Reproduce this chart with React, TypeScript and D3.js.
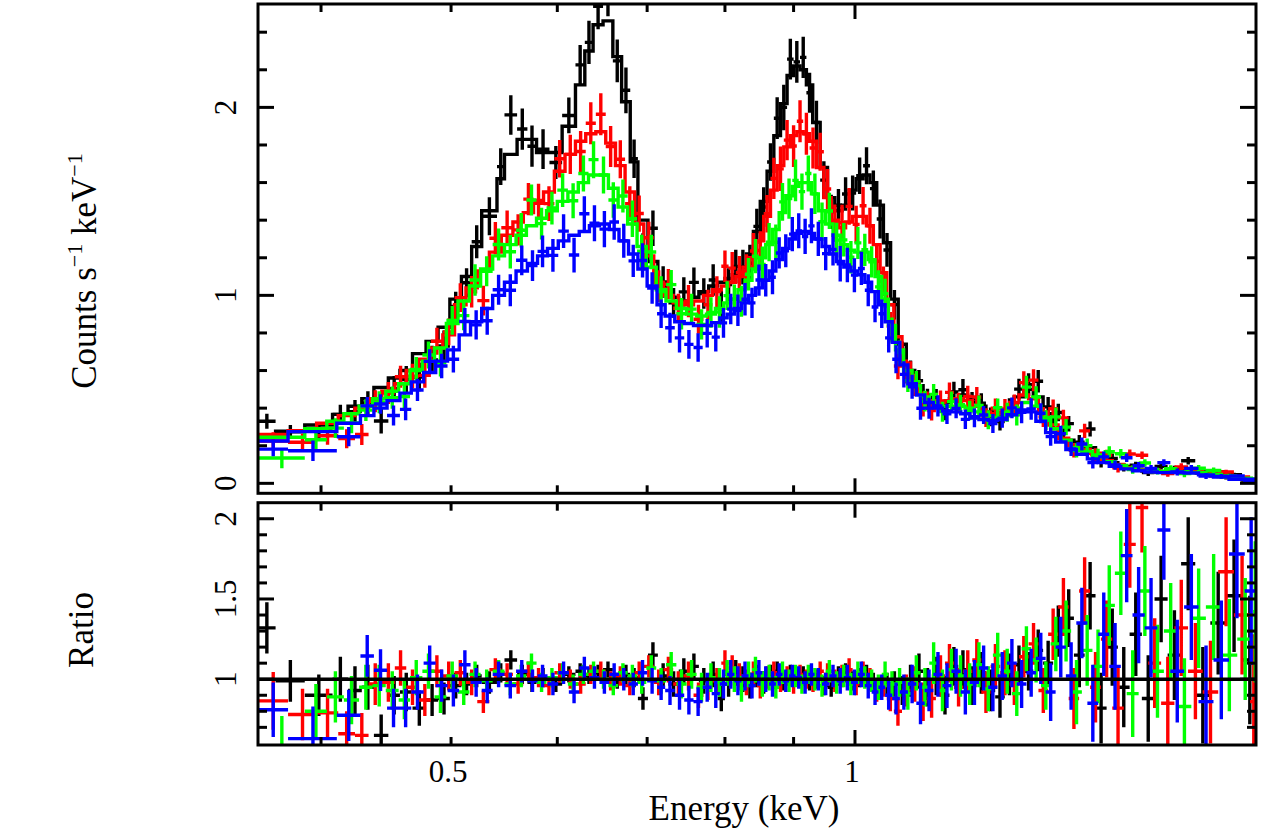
import React from 'react';
import * as d3 from 'd3';

// ---------------- data (keV bin edges, model counts/s/keV, data/model ratio, ratio error) -------------
const blackEdges = [
  0.359, 0.370, 0.389, 0.408, 0.419, 0.429, 0.438, 0.449, 0.458, 0.468, 0.479, 0.489, 0.499,
  0.509, 0.518, 0.527, 0.541, 0.548, 0.560, 0.570, 0.579, 0.592, 0.605, 0.619, 0.629, 0.638, 0.649, 0.660, 0.670, 0.680, 0.689, 0.701, 0.713,
  0.726, 0.739, 0.752, 0.765, 0.778, 0.790, 0.800, 0.810, 0.820, 0.830, 0.840, 0.850, 0.860, 0.870, 0.880, 0.890, 0.900, 0.910, 0.920, 0.930, 0.942, 0.954, 0.966, 0.978, 0.990, 1.002, 1.014, 1.026, 1.038, 1.050, 1.063,
  1.077, 1.092, 1.108, 1.124, 1.141, 1.158, 1.176, 1.194, 1.213, 1.232, 1.252, 1.272, 1.293, 1.314, 1.336, 1.358, 1.381, 1.405, 1.430, 1.456, 1.483, 1.511, 1.540, 1.570, 1.602, 1.636, 1.672, 1.710, 1.750, 1.793, 1.840, 1.890, 1.943, 1.995,
];
const blackModel = [
  0.25, 0.277, 0.31, 0.367, 0.41, 0.45, 0.51, 0.56, 0.60, 0.69, 0.755, 0.83,
  0.98, 1.10, 1.26, 1.45, 1.62, 1.75, 1.83, 1.83, 1.76, 1.76, 1.90, 2.12, 2.30, 2.44, 2.46, 2.27, 2.03, 1.71, 1.40, 1.18,
  1.05, 0.99, 0.97, 0.99, 1.02, 1.05, 1.07, 1.09, 1.11, 1.15, 1.22, 1.34, 1.50, 1.66, 1.85, 2.02, 2.17, 2.22, 2.20, 2.12, 1.92, 1.68, 1.52, 1.45, 1.48, 1.56, 1.62, 1.64, 1.60, 1.48, 1.28,
  0.98, 0.74, 0.60, 0.52, 0.47, 0.44, 0.43, 0.45, 0.47, 0.45, 0.41, 0.38, 0.37, 0.39, 0.46, 0.50, 0.46, 0.37, 0.29, 0.23, 0.19, 0.19, 0.14, 0.11, 0.09, 0.075, 0.065, 0.06, 0.065, 0.07, 0.06, 0.045, 0.03, 0.018,
];
const blackRatio = [
  1.32, 0.99, 0.90, 1.00, 0.93, 0.95, 0.65, 0.90, 0.92, 0.82, 0.87, 0.88,
  0.96, 0.97, 1.02, 0.98, 1.04, 1.12, 1.03, 0.98, 1.01, 0.97, 1.03, 1.05, 1.02, 1.04, 1.06, 0.99, 1.03, 1.01, 0.88, 1.15,
  1.02, 0.97, 1.05, 1.08, 0.99, 1.03, 0.88, 0.97, 1.04, 1.00, 0.96, 1.02, 0.98, 1.03, 1.05, 0.99, 1.04, 1.01, 1.03, 0.98, 1.00, 0.96, 0.95, 1.02, 1.04, 0.99, 1.01, 1.03, 0.98, 0.95, 0.97,
  0.97, 0.93, 0.99, 1.05, 0.95, 1.02, 0.90, 1.08, 1.06, 0.96, 1.04, 0.93, 0.89, 1.03, 1.09, 1.05, 1.18, 1.10, 1.30, 1.38, 1.15, 1.52, 0.82, 1.20, 0.95, 1.28, 0.88, 1.50, 1.15, 1.72, 0.90, 1.35, 1.52, 1.12,
];
const blackErr = [
  0.16, 0.13, 0.13, 0.14, 0.15, 0.14, 0.13, 0.12, 0.12, 0.11, 0.10, 0.10,
  0.08, 0.07, 0.07, 0.07, 0.06, 0.06, 0.06, 0.06, 0.06, 0.05, 0.05, 0.05, 0.05, 0.05, 0.05, 0.05, 0.06, 0.06, 0.07, 0.08,
  0.08, 0.08, 0.08, 0.08, 0.08, 0.08, 0.08, 0.08, 0.08, 0.08, 0.08, 0.07, 0.07, 0.06, 0.06, 0.06, 0.05, 0.05, 0.05, 0.05, 0.06, 0.06, 0.06, 0.06, 0.06, 0.06, 0.06, 0.06, 0.06, 0.07, 0.07,
  0.08, 0.09, 0.10, 0.11, 0.12, 0.12, 0.12, 0.12, 0.12, 0.12, 0.13, 0.13, 0.13, 0.13, 0.12, 0.12, 0.13, 0.14, 0.16, 0.18, 0.20, 0.21, 0.22, 0.24, 0.25, 0.26, 0.27, 0.27, 0.28, 0.29, 0.30, 0.32, 0.35, 0.40,
];

const redEdges = [
  0.359, 0.378, 0.397, 0.412, 0.424, 0.434, 0.444, 0.454, 0.463, 0.473, 0.483, 0.493, 0.503,
  0.513, 0.523, 0.534, 0.545, 0.556, 0.566, 0.576, 0.586, 0.597, 0.608, 0.619, 0.630, 0.641, 0.652, 0.663, 0.674, 0.685, 0.696, 0.708, 0.720,
  0.732, 0.745, 0.758, 0.771, 0.783, 0.795, 0.805, 0.815, 0.825, 0.835, 0.845, 0.855, 0.865, 0.875, 0.885, 0.895, 0.905, 0.915, 0.925, 0.936, 0.948, 0.960, 0.972, 0.984, 0.996, 1.008, 1.020, 1.032, 1.044, 1.056, 1.069,
  1.084, 1.100, 1.116, 1.132, 1.149, 1.167, 1.185, 1.204, 1.223, 1.242, 1.262, 1.283, 1.304, 1.325, 1.347, 1.370, 1.393, 1.417, 1.443, 1.469, 1.497, 1.525, 1.555, 1.586, 1.619, 1.654, 1.691, 1.730, 1.771, 1.816, 1.865, 1.916, 1.970, 1.995,
];
const redModel = [
  0.26, 0.28, 0.32, 0.36, 0.40, 0.45, 0.49, 0.53, 0.60, 0.66, 0.72, 0.79,
  0.95, 1.04, 1.13, 1.23, 1.32, 1.39, 1.44, 1.49, 1.55, 1.66, 1.75, 1.82, 1.86, 1.87, 1.81, 1.69, 1.55, 1.38, 1.21, 1.07,
  1.00, 0.96, 0.95, 0.97, 1.00, 1.03, 1.05, 1.07, 1.10, 1.15, 1.20, 1.29, 1.42, 1.56, 1.69, 1.79, 1.85, 1.87, 1.86, 1.82, 1.68, 1.52, 1.40, 1.36, 1.39, 1.42, 1.42, 1.37, 1.27, 1.12, 0.95,
  0.78, 0.64, 0.54, 0.48, 0.44, 0.43, 0.44, 0.45, 0.44, 0.41, 0.38, 0.37, 0.38, 0.43, 0.47, 0.45, 0.38, 0.31, 0.24, 0.20, 0.18, 0.16, 0.12, 0.10, 0.085, 0.072, 0.063, 0.062, 0.066, 0.062, 0.05, 0.036, 0.024, 0.016,
];
const redRatio = [
  0.865, 0.78, 0.79, 0.66, 0.65, 0.97, 0.98, 1.07, 0.95, 0.87, 1.05, 1.02,
  1.04, 0.98, 0.86, 1.06, 1.03, 0.97, 1.05, 1.01, 0.96, 1.04, 1.00, 0.97, 1.03, 1.05, 0.99, 1.02, 0.96, 1.04, 1.08, 0.98,
  1.06, 0.97, 1.02, 0.90, 0.95, 0.99, 1.10, 1.07, 1.02, 0.98, 1.03, 0.96, 1.01, 1.04, 0.99, 1.02, 0.97, 1.03, 1.00, 0.98, 1.05, 1.03, 0.99, 1.02, 1.06, 0.97, 1.04, 1.00, 0.93, 0.96, 0.88,
  0.80, 0.93, 0.97, 0.86, 0.88, 1.02, 1.10, 0.95, 1.05, 1.12, 0.92, 1.08, 1.04, 0.97, 1.14, 1.22, 0.93, 1.28, 1.45, 0.88, 1.55, 0.95, 1.25, 0.82, 1.84, 2.07, 1.10, 0.85, 1.32, 1.05, 0.92, 1.67, 1.40, 0.86,
];
const redErr = [
  0.18, 0.16, 0.15, 0.14, 0.14, 0.13, 0.12, 0.11, 0.11, 0.10, 0.10, 0.09,
  0.08, 0.08, 0.07, 0.07, 0.07, 0.06, 0.06, 0.06, 0.06, 0.06, 0.06, 0.06, 0.06, 0.06, 0.06, 0.06, 0.06, 0.07, 0.07, 0.08,
  0.08, 0.08, 0.09, 0.08, 0.08, 0.08, 0.08, 0.08, 0.08, 0.08, 0.08, 0.08, 0.07, 0.07, 0.07, 0.06, 0.06, 0.06, 0.06, 0.06, 0.06, 0.07, 0.07, 0.07, 0.07, 0.07, 0.07, 0.07, 0.07, 0.07, 0.08,
  0.09, 0.10, 0.11, 0.12, 0.12, 0.13, 0.12, 0.12, 0.13, 0.13, 0.13, 0.14, 0.14, 0.13, 0.13, 0.13, 0.14, 0.16, 0.18, 0.19, 0.21, 0.22, 0.24, 0.25, 0.27, 0.28, 0.28, 0.29, 0.30, 0.30, 0.32, 0.34, 0.37, 0.42,
];

const greenEdges = [
  0.359, 0.389, 0.404, 0.416, 0.427, 0.437, 0.447, 0.457, 0.466, 0.476, 0.486, 0.496, 0.506,
  0.516, 0.526, 0.537, 0.548, 0.559, 0.569, 0.579, 0.589, 0.600, 0.611, 0.622, 0.633, 0.644, 0.655, 0.666, 0.677, 0.688, 0.699, 0.711, 0.723,
  0.736, 0.749, 0.762, 0.775, 0.787, 0.798, 0.808, 0.818, 0.828, 0.838, 0.848, 0.858, 0.868, 0.878, 0.888, 0.898, 0.908, 0.918, 0.928, 0.939, 0.951, 0.963, 0.975, 0.987, 0.999, 1.011, 1.023, 1.035, 1.047, 1.059, 1.072,
  1.087, 1.103, 1.119, 1.136, 1.153, 1.171, 1.189, 1.208, 1.227, 1.247, 1.267, 1.288, 1.309, 1.331, 1.353, 1.376, 1.399, 1.424, 1.449, 1.476, 1.503, 1.532, 1.562, 1.594, 1.627, 1.662, 1.699, 1.739, 1.781, 1.826, 1.875, 1.927, 1.980, 1.995,
];
const greenModel = [
  0.245, 0.29, 0.33, 0.37, 0.41, 0.45, 0.49, 0.53, 0.60, 0.65, 0.72, 0.85,
  0.97, 1.05, 1.14, 1.21, 1.27, 1.32, 1.37, 1.41, 1.45, 1.50, 1.55, 1.60, 1.64, 1.64, 1.57, 1.47, 1.38, 1.26, 1.15, 1.03,
  0.97, 0.93, 0.90, 0.89, 0.90, 0.93, 0.96, 0.98, 1.03, 1.08, 1.14, 1.20, 1.27, 1.35, 1.44, 1.53, 1.58, 1.60, 1.60, 1.54, 1.45, 1.38, 1.32, 1.27, 1.24, 1.23, 1.23, 1.19, 1.10, 0.98, 0.84,
  0.71, 0.60, 0.52, 0.46, 0.43, 0.41, 0.41, 0.41, 0.40, 0.38, 0.36, 0.35, 0.36, 0.40, 0.43, 0.41, 0.35, 0.29, 0.23, 0.19, 0.17, 0.14, 0.115, 0.095, 0.08, 0.07, 0.062, 0.06, 0.062, 0.058, 0.047, 0.034, 0.022, 0.015,
];
const greenRatio = [
  0.55, 0.80, 0.89, 0.87, 0.95, 0.96, 0.93, 0.87, 1.01, 1.05, 0.89, 1.02,
  0.92, 1.03, 0.99, 1.05, 0.97, 1.02, 1.10, 0.98, 1.01, 1.04, 0.97, 1.03, 1.05, 1.00, 0.96, 1.04, 1.02, 0.98, 1.07, 0.99,
  1.09, 0.97, 1.03, 0.95, 1.01, 0.98, 1.04, 1.00, 0.94, 1.03, 1.06, 0.97, 1.01, 0.95, 1.04, 0.99, 1.02, 0.97, 1.03, 1.00, 0.96, 1.05, 0.98, 1.02, 0.97, 1.04, 1.01, 0.99, 0.95, 1.03, 0.97,
  0.98, 0.91, 1.04, 0.95, 1.10, 0.93, 1.06, 1.02, 0.97, 1.09, 0.94, 1.15, 1.05, 0.91, 1.19, 1.12, 0.96, 1.22, 1.30, 0.92, 1.18, 1.08, 1.46, 1.66, 0.91, 1.55, 1.05, 1.30, 0.83, 1.38, 1.45, 1.15, 1.25, 1.42,
];
const greenErr = [
  0.22, 0.17, 0.16, 0.15, 0.14, 0.13, 0.12, 0.12, 0.11, 0.11, 0.10, 0.09,
  0.08, 0.08, 0.07, 0.07, 0.07, 0.07, 0.06, 0.06, 0.06, 0.06, 0.06, 0.06, 0.06, 0.06, 0.06, 0.06, 0.07, 0.07, 0.08, 0.08,
  0.08, 0.09, 0.09, 0.09, 0.09, 0.09, 0.08, 0.08, 0.08, 0.08, 0.08, 0.08, 0.08, 0.07, 0.07, 0.07, 0.07, 0.06, 0.06, 0.07, 0.07, 0.07, 0.07, 0.07, 0.07, 0.07, 0.07, 0.07, 0.08, 0.08, 0.08,
  0.09, 0.10, 0.11, 0.12, 0.13, 0.13, 0.13, 0.13, 0.13, 0.14, 0.14, 0.14, 0.14, 0.14, 0.14, 0.14, 0.15, 0.17, 0.19, 0.20, 0.22, 0.23, 0.25, 0.26, 0.27, 0.28, 0.29, 0.30, 0.30, 0.31, 0.33, 0.35, 0.38, 0.44,
];

const blueEdges = [
  0.359, 0.378, 0.411, 0.428, 0.438, 0.448, 0.458, 0.467, 0.477, 0.487, 0.497, 0.507,
  0.517, 0.527, 0.537, 0.548, 0.559, 0.570, 0.580, 0.590, 0.601, 0.612, 0.623, 0.634, 0.645, 0.656, 0.667, 0.678, 0.689, 0.700, 0.712, 0.722,
  0.734, 0.746, 0.758, 0.770, 0.782, 0.793, 0.803, 0.813, 0.823, 0.833, 0.843, 0.853, 0.863, 0.873, 0.883, 0.893, 0.903, 0.913, 0.923, 0.933, 0.945, 0.957, 0.969, 0.981, 0.993, 1.005, 1.017, 1.029, 1.041, 1.053, 1.066,
  1.080, 1.095, 1.111, 1.127, 1.144, 1.162, 1.180, 1.199, 1.218, 1.237, 1.257, 1.277, 1.298, 1.320, 1.342, 1.364, 1.387, 1.411, 1.436, 1.462, 1.490, 1.518, 1.547, 1.578, 1.610, 1.644, 1.680, 1.718, 1.759, 1.803, 1.850, 1.900, 1.952, 1.995,
];
const blueModel = [
  0.225, 0.275, 0.32, 0.36, 0.40, 0.44, 0.48, 0.54, 0.59, 0.65, 0.71,
  0.79, 0.86, 0.93, 1.00, 1.07, 1.13, 1.17, 1.21, 1.25, 1.29, 1.32, 1.34, 1.37, 1.38, 1.35, 1.29, 1.22, 1.14, 1.05, 0.95,
  0.89, 0.86, 0.85, 0.84, 0.84, 0.855, 0.88, 0.90, 0.93, 0.96, 1.00, 1.04, 1.08, 1.13, 1.19, 1.25, 1.30, 1.33, 1.34, 1.33, 1.30, 1.26, 1.22, 1.18, 1.15, 1.13, 1.11, 1.07, 1.02, 0.95, 0.86,
  0.75, 0.63, 0.53, 0.47, 0.43, 0.40, 0.385, 0.38, 0.37, 0.355, 0.34, 0.335, 0.34, 0.365, 0.39, 0.38, 0.33, 0.27, 0.22, 0.18, 0.155, 0.13, 0.11, 0.09, 0.077, 0.067, 0.06, 0.057, 0.058, 0.055, 0.045, 0.033, 0.022, 0.014,
];
const blueRatio = [
  0.81, 0.63, 0.775, 1.145, 1.056, 0.82, 0.82, 0.92, 1.10, 0.96, 0.93,
  1.09, 0.98, 0.93, 1.03, 0.96, 1.05, 0.99, 1.02, 0.97, 1.04, 0.92, 1.07, 1.01, 0.98, 1.03, 1.00, 0.97, 1.04, 0.99, 0.95,
  0.93, 0.90, 0.87, 0.86, 0.95, 0.91, 0.97, 1.03, 0.99, 1.02, 0.96, 1.04, 1.00, 0.97, 1.03, 0.99, 1.02, 1.01, 0.98, 1.03, 1.00, 0.97, 1.02, 0.99, 1.01, 0.98, 1.03, 0.96, 0.92, 0.95, 0.90,
  0.88, 0.92, 0.97, 0.85, 0.93, 1.03, 0.96, 1.05, 0.92, 0.98, 1.07, 0.95, 1.02, 1.10, 0.97, 1.04, 1.13, 0.92, 1.20, 1.02, 1.35, 0.85, 1.28, 1.08, 1.77, 1.40, 1.32, 1.93, 1.05, 1.45, 0.86, 1.12, 1.78, 1.55,
];
const blueErr = [
  0.17, 0.20, 0.16, 0.13, 0.13, 0.12, 0.12, 0.11, 0.11, 0.10, 0.10,
  0.09, 0.09, 0.08, 0.08, 0.08, 0.07, 0.07, 0.07, 0.07, 0.07, 0.07, 0.07, 0.07, 0.07, 0.07, 0.07, 0.07, 0.08, 0.08, 0.08,
  0.09, 0.09, 0.09, 0.09, 0.09, 0.09, 0.09, 0.09, 0.09, 0.09, 0.08, 0.08, 0.08, 0.08, 0.07, 0.07, 0.07, 0.07, 0.07, 0.07, 0.07, 0.07, 0.07, 0.08, 0.08, 0.08, 0.08, 0.08, 0.08, 0.08, 0.09,
  0.10, 0.11, 0.12, 0.13, 0.13, 0.14, 0.14, 0.14, 0.14, 0.14, 0.14, 0.15, 0.15, 0.15, 0.15, 0.15, 0.16, 0.18, 0.19, 0.21, 0.22, 0.24, 0.26, 0.27, 0.29, 0.30, 0.31, 0.31, 0.32, 0.33, 0.35, 0.37, 0.40, 0.46,
];

// axis ticks and labels
const xDomain = [0.359, 1.99];
const xMinorTicks = [0.4, 0.5, 0.6, 0.7, 0.8, 0.9];
const xMajorTicks = [1];
const xTickLabels = [{ v: 0.5, t: '0.5' }, { v: 1, t: '1' }];
const topDomain = [-0.053, 2.55];
const topMajorTicks = [0, 1, 2];
const topMinorTicks = [0.2, 0.4, 0.6, 0.8, 1.2, 1.4, 1.6, 1.8, 2.2, 2.4];
const topTickLabels = ['0', '1', '2'];
const botDomain = [0.59, 2.1];
const botMajorTicks = [1, 1.5, 2];
const botMinorTicks = [0.7, 0.8, 0.9, 1.1, 1.2, 1.3, 1.4, 1.6, 1.7, 1.8, 1.9];
const botTickLabels = ['1', '1.5', '2'];

const series = [
  { color: '#000000', edges: blackEdges, model: blackModel, ratio: blackRatio, err: blackErr },
  { color: '#ff0000', edges: redEdges, model: redModel, ratio: redRatio, err: redErr },
  { color: '#00ff00', edges: greenEdges, model: greenModel, ratio: greenRatio, err: greenErr },
  { color: '#0000ff', edges: blueEdges, model: blueModel, ratio: blueRatio, err: blueErr },
];

// ---------------- layout ----------------
const W = 1261;
const H = 830;
const X0 = 258;
const X1 = 1256;
const TOP_Y0 = 4;
const TOP_Y1 = 493.3;
const BOT_Y0 = 502.7;
const BOT_Y1 = 745;
const FONT = '"Liberation Serif", "Times New Roman", serif';
const LW = 3;
const DW = 3.4;

const x = d3.scaleLog().domain(xDomain).range([X0, X1]);
const yTop = d3.scaleLinear().domain(topDomain).range([TOP_Y1, TOP_Y0]);
const yBot = d3.scaleLinear().domain(botDomain).range([BOT_Y1, BOT_Y0]);

function stepPath(s: any): string {
  const n = Math.min(s.model.length, s.edges.length - 1);
  const pts: [number, number][] = [];
  for (let i = 0; i < n; i++) pts.push([s.edges[i], s.model[i]]);
  pts.push([s.edges[n], s.model[n - 1]]);
  return d3
    .line<[number, number]>()
    .x((d) => x(d[0]))
    .y((d) => yTop(d[1]))
    .curve(d3.curveStepAfter)(pts) as string;
}

function crossPath(s: any, which: 'top' | 'bot'): string {
  const n = Math.min(s.model.length, s.edges.length - 1, s.ratio.length, s.err.length);
  let p = '';
  for (let i = 0; i < n; i++) {
    const lo = s.edges[i];
    const hi = s.edges[i + 1];
    const xc = x((lo + hi) / 2);
    let v: number;
    let e: number;
    let ys: any;
    if (which === 'top') {
      v = s.model[i] * s.ratio[i];
      e = s.model[i] * s.err[i];
      ys = yTop;
    } else {
      v = s.ratio[i];
      e = s.err[i];
      ys = yBot;
    }
    p += `M${x(lo)},${ys(v)}H${x(hi)}M${xc},${ys(v - e)}V${ys(v + e)}`;
  }
  return p;
}

function XTicks({ y0, y1 }: { y0: number; y1: number }) {
  const els: any[] = [];
  xMinorTicks.forEach((t, i) => {
    const px = x(t);
    els.push(<line key={`a${i}`} x1={px} x2={px} y1={y0} y2={y0 + 8} />);
    els.push(<line key={`b${i}`} x1={px} x2={px} y1={y1} y2={y1 - 8} />);
  });
  xMajorTicks.forEach((t, i) => {
    const px = x(t);
    els.push(<line key={`c${i}`} x1={px} x2={px} y1={y0} y2={y0 + 15} />);
    els.push(<line key={`d${i}`} x1={px} x2={px} y1={y1} y2={y1 - 15} />);
  });
  return <g stroke="#000" strokeWidth={LW}>{els}</g>;
}

function YTicks({ scale, major, minor }: { scale: any; major: number[]; minor: number[] }) {
  const els: any[] = [];
  major.forEach((t, i) => {
    const py = scale(t);
    els.push(<line key={`a${i}`} x1={X0} x2={X0 + 16} y1={py} y2={py} />);
    els.push(<line key={`b${i}`} x1={X1} x2={X1 - 16} y1={py} y2={py} />);
  });
  minor.forEach((t, i) => {
    const py = scale(t);
    els.push(<line key={`c${i}`} x1={X0} x2={X0 + 9} y1={py} y2={py} />);
    els.push(<line key={`d${i}`} x1={X1} x2={X1 - 9} y1={py} y2={py} />);
  });
  return <g stroke="#000" strokeWidth={LW}>{els}</g>;
}

export default function App() {
  return (
    <svg
      width={W}
      height={H}
      viewBox={`0 0 ${W} ${H}`}
      style={{ position: 'absolute', left: 0, top: 0, background: '#fff' }}
      fontFamily={FONT}
    >
      <defs>
        <clipPath id="clipTop">
          <rect x={X0} y={TOP_Y0} width={X1 - X0} height={TOP_Y1 - TOP_Y0} />
        </clipPath>
        <clipPath id="clipBot">
          <rect x={X0} y={BOT_Y0} width={X1 - X0} height={BOT_Y1 - BOT_Y0} />
        </clipPath>
      </defs>
      <rect x={0} y={0} width={W} height={H} fill="#fff" />

      {/* top panel data */}
      <g clipPath="url(#clipTop)" fill="none" strokeWidth={DW}>
        {series.map((s, i) => (
          <g key={i} stroke={s.color}>
            <path d={crossPath(s, 'top')} />
            <path d={stepPath(s)} strokeLinejoin="miter" />
          </g>
        ))}
      </g>

      {/* bottom panel data */}
      <g clipPath="url(#clipBot)" fill="none" strokeWidth={DW}>
        {series.map((s, i) => (
          <path key={i} stroke={s.color} d={crossPath(s, 'bot')} />
        ))}
        <line x1={X0} x2={X1} y1={yBot(1)} y2={yBot(1)} stroke="#000" strokeWidth={DW} />
      </g>

      {/* frames */}
      <rect x={X0} y={TOP_Y0} width={X1 - X0} height={TOP_Y1 - TOP_Y0} fill="none" stroke="#000" strokeWidth={LW} />
      <rect x={X0} y={BOT_Y0} width={X1 - X0} height={BOT_Y1 - BOT_Y0} fill="none" stroke="#000" strokeWidth={LW} />

      <XTicks y0={TOP_Y0} y1={TOP_Y1} />
      <XTicks y0={BOT_Y0} y1={BOT_Y1} />
      <YTicks scale={yTop} major={topMajorTicks} minor={topMinorTicks} />
      <YTicks scale={yBot} major={botMajorTicks} minor={botMinorTicks} />

      {/* tick labels */}
      <g fontSize={31} fill="#000" textAnchor="middle">
        {topMajorTicks.map((t, i) => (
          <text key={`t${i}`} transform={`translate(236,${yTop(t)}) rotate(-90)`}>
            {topTickLabels[i]}
          </text>
        ))}
        {botMajorTicks.map((t, i) => (
          <text key={`b${i}`} transform={`translate(236,${yBot(t)}) rotate(-90)`}>
            {botTickLabels[i]}
          </text>
        ))}
        {xTickLabels.map((d, i) => (
          <text key={`x${i}`} x={x(d.v) - 3} y={782}>
            {d.t}
          </text>
        ))}
      </g>

      {/* axis titles */}
      <g fontSize={35} fill="#000" textAnchor="middle">
        <text x={744} y={820}>Energy (keV)</text>
        <text transform="translate(93,630) rotate(-90)">Ratio</text>
        <text transform="translate(96,271) rotate(-90)">
          Counts s
          <tspan fontSize={22} dy={-14}>−1</tspan>
          <tspan dy={14}> keV</tspan>
          <tspan fontSize={22} dy={-14}>−1</tspan>
        </text>
      </g>
    </svg>
  );
}
